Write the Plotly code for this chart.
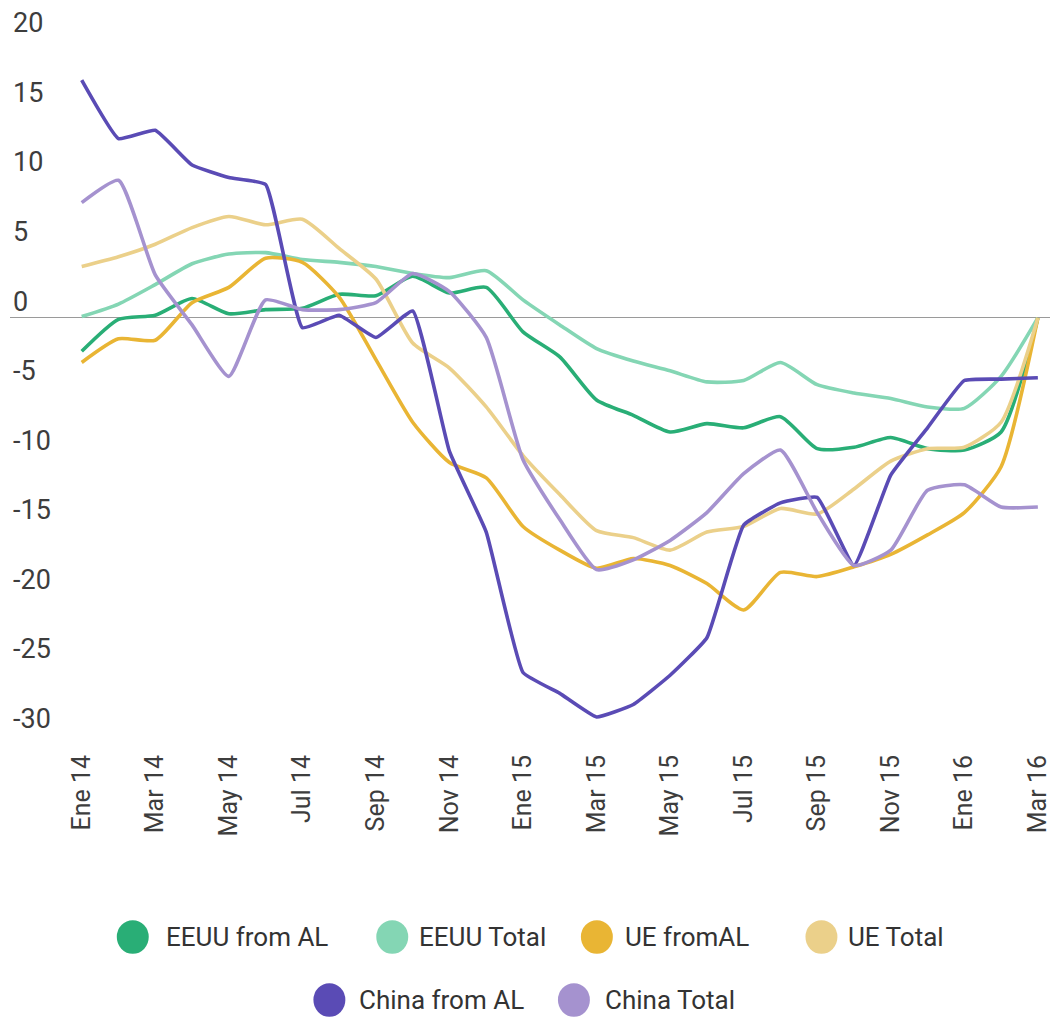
import plotly.graph_objects as go

months = ["Ene 14", "Feb 14", "Mar 14", "Abr 14", "May 14", "Jun 14", "Jul 14", "Ago 14",
          "Sep 14", "Oct 14", "Nov 14", "Dic 14", "Ene 15", "Feb 15", "Mar 15", "Abr 15",
          "May 15", "Jun 15", "Jul 15", "Ago 15", "Sep 15", "Oct 15", "Nov 15", "Dic 15",
          "Ene 16", "Feb 16", "Mar 16"]
tick_labels = months[::2]
y_ticks = [20, 15, 10, 5, 0, -5, -10, -15, -20, -25, -30]

eeuu_from_al = [-2.4, -0.1, 0.2, 1.4, 0.3, 0.6, 0.7, 1.7, 1.6, 3.0, 1.8, 2.2, -1.0, -2.8,
                -5.9, -7.0, -8.2, -7.6, -7.9, -7.1, -9.4, -9.3, -8.6, -9.4, -9.5, -8.2, 0.0]
eeuu_total = [0.1, 1.0, 2.4, 3.9, 4.6, 4.7, 4.2, 4.0, 3.7, 3.2, 2.9, 3.4, 1.3, -0.5,
              -2.2, -3.1, -3.8, -4.6, -4.5, -3.2, -4.8, -5.4, -5.8, -6.4, -6.5, -4.2, 0.0]
ue_from_al = [-3.2, -1.5, -1.6, 1.1, 2.2, 4.3, 4.0, 1.5, -3.0, -7.5, -10.4, -11.5, -15.0, -16.7,
              -18.0, -17.3, -17.8, -19.1, -21.0, -18.3, -18.6, -17.9, -17.0, -15.6, -14.0, -10.7, 0.0]
ue_total = [3.7, 4.4, 5.3, 6.5, 7.3, 6.7, 7.1, 5.0, 2.8, -1.8, -3.6, -6.4, -9.9, -12.7,
            -15.3, -15.8, -16.7, -15.4, -15.0, -13.7, -14.1, -12.3, -10.3, -9.4, -9.3, -7.5, 0.0]
china_from_al = [17.1, 12.9, 13.5, 11.0, 10.1, 9.6, -0.7, 0.2, -1.4, 0.5, -9.6, -15.4, -25.5, -27.0,
                 -28.7, -27.8, -25.7, -23.0, -14.9, -13.3, -12.9, -17.8, -11.3, -7.9, -4.5, -4.4, -4.3]
china_total = [8.3, 9.9, 3.1, -0.5, -4.2, 1.3, 0.6, 0.6, 1.1, 3.2, 1.9, -1.4, -10.2, -14.5,
               -18.1, -17.4, -16.0, -14.0, -11.2, -9.5, -14.0, -17.8, -16.7, -12.4, -12.0, -13.6, -13.6]

series_names = ["EEUU from AL", "EEUU Total", "UE fromAL", "UE Total", "China from AL", "China Total"]
series_values = [eeuu_from_al, eeuu_total, ue_from_al, ue_total, china_from_al, china_total]
colors = ["#29ae76", "#84d6b4", "#e9b534", "#ebd08a", "#5a4bb5", "#a592cf"]
smooth = [0.6, 0.6, 0.6, 0.6, 0.35, 0.5]

W, H = 1052, 1019
ML, MR, MT, MB = 10, 0, 26, 277
PW, PH = W - ML - MR, H - MT - MB

fig = go.Figure()
for name, vals, col, sm in zip(series_names, series_values, colors, smooth):
    fig.add_trace(go.Scatter(x=months, y=vals, name=name, mode="lines",
                             line=dict(color=col, width=3.6, shape="spline", smoothing=sm),
                             showlegend=False, hoverinfo="skip"))

# custom legend (large dots)
def px(xp):
    return (xp - ML) / PW

def py(yp):
    return (H - MB - yp) / PH

legend_layout = [  # (row y, dot centre x, text left x)
    (937, 133, 164), (937, 393, 418), (937, 598, 624), (937, 823, 848),
    (1000, 330, 358), (1000, 575, 604),
]
r = 16
for (ly, cx, tx), name, col in zip(legend_layout, series_names, colors):
    fig.add_shape(type="circle", xref="paper", yref="paper",
                  x0=px(cx - r), x1=px(cx + r), y0=py(ly + r * 1.05), y1=py(ly - r * 1.05),
                  fillcolor=col, line=dict(width=0))
    fig.add_annotation(xref="paper", yref="paper", x=px(tx), y=py(ly), text=name,
                       showarrow=False, xanchor="left", yanchor="middle",
                       font=dict(family="Roboto", size=26, color="#333333"))

fig.update_layout(
    width=W, height=H,
    margin=dict(l=ML, r=MR, t=MT, b=MB),
    paper_bgcolor="white", plot_bgcolor="white",
    font=dict(family="Roboto", color="#3d3d3d"),
    showlegend=False,
)
fig.update_xaxes(type="category", range=[-1.95, 26.33], tickvals=tick_labels, ticktext=tick_labels,
                 tickangle=-90, tickfont=dict(size=25, color="#3d3d3d"), showgrid=False,
                 ticklabelstandoff=7,
                 zeroline=False, showline=False, ticks="", fixedrange=True)
fig.update_yaxes(range=[-30.5, 21], tickvals=y_ticks, ticktext=[str(v) for v in y_ticks],
                 ticklabelposition="inside top", ticklabeloverflow="allow", ticklabelshift=2,
                 tickfont=dict(size=27, color="#3d3d3d"), showgrid=False,
                 zeroline=True, zerolinecolor="#9a9a9a", zerolinewidth=1.2,
                 showline=False, ticks="", fixedrange=True)

fig.write_html("out.html", config={"displayModeBar": False},
               post_script="document.body.style.margin='0';document.body.style.overflow='hidden';")
